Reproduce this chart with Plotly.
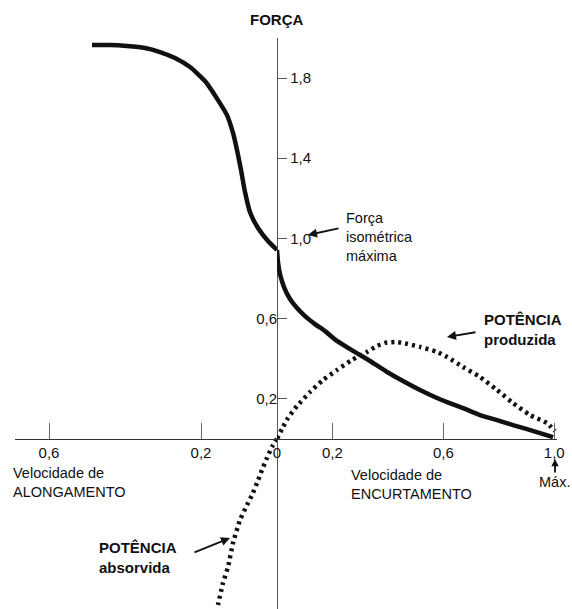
import plotly.graph_objects as go

# ---- data: relative force and power vs. contraction velocity ----
# lengthening side (speed of lengthening, relative force)
v_along = [0.4868, 0.4395, 0.3947, 0.3474, 0.3079, 0.2684, 0.2289, 0.1895, 0.1553,
           0.1316, 0.1158, 0.1053, 0.0947, 0.0842, 0.0711, 0.05, 0.0237, 0.0]
f_along = [1.965, 1.965, 1.960, 1.950, 1.930, 1.900, 1.855, 1.785, 1.690,
           1.615, 1.526, 1.441, 1.341, 1.231, 1.131, 1.052, 0.987, 0.942]

# shortening side (speed of shortening, relative force)
v_encurt = [0.0, 0.0036, 0.0108, 0.0253, 0.0469, 0.0722, 0.1010, 0.1371, 0.1732,
            0.2165, 0.2742, 0.3355, 0.3968, 0.4545, 0.5159, 0.5772, 0.6133,
            0.6710, 0.7324, 0.7937, 0.8514, 0.9019, 0.9488, 0.9957]
f_encurt = [0.942, 0.882, 0.822, 0.757, 0.697, 0.652, 0.612, 0.572, 0.537,
            0.488, 0.438, 0.388, 0.333, 0.288, 0.243, 0.203, 0.183,
            0.153, 0.118, 0.093, 0.068, 0.048, 0.028, 0.008]

# power produced while shortening
v_prod = [0.0, 0.0216, 0.0397, 0.0722, 0.1191, 0.1659, 0.2165, 0.2706, 0.3247,
          0.3608, 0.3896, 0.4257, 0.4545, 0.5159, 0.5772, 0.6133, 0.6710,
          0.7324, 0.7937, 0.8514, 0.9127, 0.9740, 1.0029]
p_prod = [0.0, 0.058, 0.103, 0.163, 0.233, 0.293, 0.343, 0.393, 0.433,
          0.463, 0.478, 0.483, 0.478, 0.458, 0.433, 0.408, 0.358,
          0.308, 0.243, 0.178, 0.118, 0.078, 0.038]

# power absorbed while lengthening
v_abs = [0.0, 0.0132, 0.0263, 0.0395, 0.0526, 0.0658, 0.0789, 0.0974, 0.1158,
         0.1289, 0.1421, 0.1553]
p_abs = [0.0, -0.041, -0.096, -0.156, -0.221, -0.281, -0.331, -0.406, -0.521,
         -0.640, -0.720, -0.830]

# tick labels
y_ticks_top = [1.0, 1.4, 1.8]
y_ticks_top_txt = ["1,0", "1,4", "1,8"]
y_ticks_low = [0.2, 0.6]
y_ticks_low_txt = ["0,2", "0,6"]
x_ticks_along = [0.6, 0.2, 0.0]
x_ticks_along_txt = ["0,6", "0,2", "0"]
x_ticks_encurt = [0.2, 0.6, 1.0]
x_ticks_encurt_txt = ["0,2", "0,6", "1,0"]

# ---- layout geometry ----
W, H = 572, 609
ML, MR, MT, MB = 15, 15, 38, 0
Y_RANGE = [-0.85, 2.0]
X_ALONG_RANGE = [0.6895, 0.0]
X_ENCURT_RANGE = [0.0, 1.01]
SPLIT = 262 / (W - ML - MR)                      # where the two velocity axes meet
Y_ZERO = (0 - Y_RANGE[0]) / (Y_RANGE[1] - Y_RANGE[0])

FONT = "Liberation Sans, Arial, Helvetica, sans-serif"
INK = "#111111"


def px(x):
    return (x - ML) / (W - ML - MR)


def py(y):
    return (H - MB - y) / (H - MT - MB)


fig = go.Figure()

solid = dict(color=INK, width=4.5, shape="spline", smoothing=0.5)
dotted = dict(color=INK, width=4.5, dash="3px,4px", shape="spline", smoothing=0.5)

fig.add_trace(go.Scatter(x=v_along, y=f_along, xaxis="x", yaxis="y",
                         mode="lines", line=solid, showlegend=False, hoverinfo="skip"))
fig.add_trace(go.Scatter(x=v_encurt, y=f_encurt, xaxis="x2", yaxis="y",
                         mode="lines", line=solid, showlegend=False, hoverinfo="skip"))
fig.add_trace(go.Scatter(x=v_abs, y=p_abs, xaxis="x", yaxis="y2",
                         mode="lines", line=dotted, showlegend=False, hoverinfo="skip"))
fig.add_trace(go.Scatter(x=v_prod, y=p_prod, xaxis="x2", yaxis="y2",
                         mode="lines", line=dotted, showlegend=False, hoverinfo="skip"))

tickfont = dict(family=FONT, size=15, color=INK)
x_common = dict(anchor="free", position=Y_ZERO, showline=True, linecolor="#333333",
                linewidth=1.3, ticks="inside", ticklen=16, tickwidth=1,
                tickcolor="#666666", showgrid=False, zeroline=False,
                tickfont=tickfont)

fig.update_layout(
    width=W, height=H,
    margin=dict(l=ML, r=MR, t=MT, b=MB, pad=0),
    paper_bgcolor="white", plot_bgcolor="white",
    showlegend=False,
    xaxis=dict(domain=[0, SPLIT], range=X_ALONG_RANGE, tickvals=x_ticks_along,
               ticktext=x_ticks_along_txt, **x_common),
    xaxis2=dict(domain=[SPLIT, 1], range=X_ENCURT_RANGE, tickvals=x_ticks_encurt,
                ticktext=x_ticks_encurt_txt, **x_common),
    yaxis=dict(range=Y_RANGE, anchor="free", position=SPLIT, side="right",
               showline=True, linecolor="#555555", linewidth=1.3,
               ticks="outside", ticklen=9, tickwidth=1, tickcolor="#555555",
               tickvals=y_ticks_top, ticktext=y_ticks_top_txt,
               showgrid=False, zeroline=False, tickfont=tickfont),
    yaxis2=dict(range=Y_RANGE, anchor="free", position=SPLIT, side="left",
                overlaying="y", showline=False,
                ticks="inside", ticklen=9, tickwidth=1, tickcolor="#555555",
                tickvals=y_ticks_low, ticktext=y_ticks_low_txt,
                showgrid=False, zeroline=False, tickfont=tickfont),
)

reg = dict(family=FONT, size=14.5, color=INK)
bold = dict(family=FONT, size=15, color=INK)


def label(text, x, y, font, xanchor="left", align="left"):
    fig.add_annotation(text=text, x=px(x), y=py(y), xref="paper", yref="paper",
                       xanchor=xanchor, yanchor="middle", align=align,
                       showarrow=False, font=font, borderpad=0)


def arrow(x_head, y_head, x_tail, y_tail, size=1.0):
    fig.add_annotation(text="", x=px(x_head), y=py(y_head), xref="paper", yref="paper",
                       ax=x_tail - x_head, ay=y_tail - y_head, axref="pixel", ayref="pixel",
                       showarrow=True, arrowhead=2, arrowsize=size, arrowwidth=1.8,
                       arrowcolor=INK, standoff=0, startstandoff=0)


label("<b>FORÇA</b>", 276, 20, bold, xanchor="center")

label("Força<br>isométrica<br>máxima", 345, 237, reg)
arrow(308, 235, 340, 228)

label("<b>POTÊNCIA<br>produzida</b>", 483, 330, bold)
arrow(447, 337, 477, 332)

label("<b>POTÊNCIA<br>absorvida</b>", 98, 557, bold)
arrow(230, 538, 193, 553)

label("Velocidade de<br>ALONGAMENTO", 12, 482, reg)
label("Velocidade de<br>ENCURTAMENTO", 350, 484, reg)

label("Máx.", 538, 482, reg)
arrow(555, 459, 555, 474, size=0.8)

fig.write_html("out.html")
